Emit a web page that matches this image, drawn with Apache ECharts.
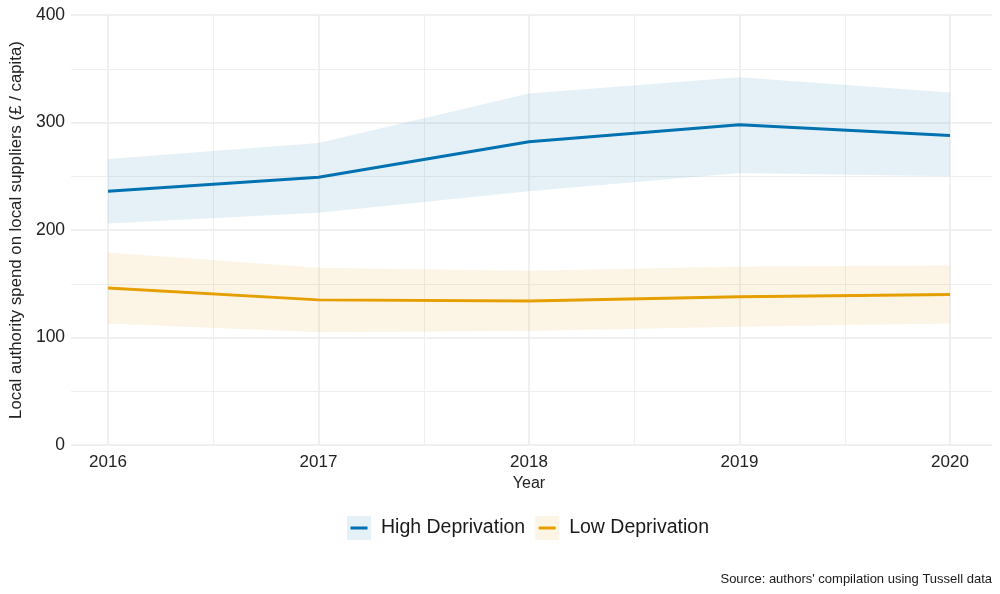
<!DOCTYPE html>
<html>
<head>
<meta charset="utf-8">
<script src="https://cdn.jsdelivr.net/npm/echarts@6/dist/echarts.min.js"></script>
<style>html,body{margin:0;padding:0;background:#fff}#c{width:1000px;height:594px}</style>
</head>
<body>
<div id="c"></div>
<script>
const years = [2016, 2017, 2018, 2019, 2020];
const highMean  = [236, 249, 282, 298, 288];
const highUpper = [266, 281, 327, 342, 328];
const highLower = [206, 216, 236, 253, 250];
const lowMean   = [146, 135, 134, 138, 140];
const lowUpper  = [179, 165, 162, 166, 167];
const lowLower  = [113, 105, 106, 110, 113];
const seriesNames = ['High Deprivation', 'Low Deprivation'];
const yTicks = [0, 100, 200, 300, 400];

const BLUE = '#0072B2', ORANGE = '#E69F00';
const FONT = 'Liberation Sans, Arial, Helvetica, sans-serif';

const pairs = (ys) => years.map((x, i) => [x, ys[i]]);

function band(lower, upper, color) {
  return {
    type: 'custom', xAxisIndex: 1, yAxisIndex: 1, silent: true, z: 1,
    data: years.map((x, i) => [x, lower[i], upper[i]]),
    renderItem: function (params, api) {
      if (params.dataIndex !== 0) return;
      const pts = [];
      for (let i = 0; i < years.length; i++) pts.push(api.coord([years[i], upper[i]]));
      for (let i = years.length - 1; i >= 0; i--) pts.push(api.coord([years[i], lower[i]]));
      return { type: 'polygon', shape: { points: pts }, style: { fill: color, opacity: 0.1 } };
    }
  };
}

const chart = echarts.init(document.getElementById('c'), null, { renderer: 'canvas' });
const lineIcon = 'path://M0,0 M24,24 M3.5,10.5 L20.5,10.5 L20.5,13.5 L3.5,13.5 Z';

chart.setOption({
  animation: false,
  textStyle: { fontFamily: FONT },
  grid: [
    { left: 65, right: 8, top: 15, bottom: 149 },
    { left: 108, right: 50, top: 15, bottom: 149 }
  ],
  xAxis: [
    { type: 'value', gridIndex: 0, min: 0, max: 1, show: false },
    { type: 'value', gridIndex: 1, min: years[0], max: years[years.length - 1], interval: 1,
      axisLine: { show: false }, axisTick: { show: false },
      axisLabel: { fontSize: 17, color: '#222', margin: 9, fontFamily: FONT, formatter: (v) => String(v) },
      splitLine: { show: true, lineStyle: { color: '#ebebeb', width: 1.5 } },
      minorTick: { show: false, splitNumber: 2 },
      minorSplitLine: { show: true, lineStyle: { color: '#efefef', width: 1 } },
      name: 'Year', nameLocation: 'middle', nameGap: 27,
      nameTextStyle: { fontSize: 16, color: '#222', fontFamily: FONT } }
  ],
  yAxis: [
    { type: 'value', gridIndex: 0, min: yTicks[0], max: yTicks[yTicks.length - 1], interval: 100,
      axisLine: { show: false }, axisTick: { show: false },
      axisLabel: { fontSize: 17.5, color: '#222', margin: 6, fontFamily: FONT },
      splitLine: { show: true, lineStyle: { color: '#ebebeb', width: 1.5 } },
      minorTick: { show: false, splitNumber: 2 },
      minorSplitLine: { show: true, lineStyle: { color: '#efefef', width: 1 } },
      name: 'Local authority spend on local suppliers (£ / capita)',
      nameLocation: 'middle', nameGap: 36,
      nameTextStyle: { fontSize: 16.8, color: '#222', fontFamily: FONT } },
    { type: 'value', gridIndex: 1, min: yTicks[0], max: yTicks[yTicks.length - 1], show: false }
  ],
  legend: [
    { left: 347, top: 516, padding: 0, itemGap: 10, itemWidth: 24, itemHeight: 24, icon: 'rect',
      selectedMode: false,
      data: [
        { name: seriesNames[0], itemStyle: { color: 'rgba(0,114,178,0.1)' } },
        { name: seriesNames[1], itemStyle: { color: 'rgba(230,159,0,0.1)' } }
      ],
      textStyle: { fontSize: 19.5, color: '#1a1a1a', fontFamily: FONT, padding: [0, 0, 0, 5] } },
    { left: 347, top: 516, padding: 0, itemGap: 10, itemWidth: 24, itemHeight: 24, icon: lineIcon,
      selectedMode: false,
      data: [
        { name: seriesNames[0], itemStyle: { color: BLUE } },
        { name: seriesNames[1], itemStyle: { color: ORANGE } }
      ],
      textStyle: { fontSize: 19.5, color: 'rgba(0,0,0,0)', fontFamily: FONT, padding: [0, 0, 0, 5] } }
  ],
  title: {
    text: "Source: authors' compilation using Tussell data",
    right: 8, bottom: 8, padding: 0,
    textStyle: { fontSize: 13, fontWeight: 'normal', color: '#1a1a1a', fontFamily: FONT }
  },
  series: [
    band(highLower, highUpper, BLUE),
    band(lowLower, lowUpper, ORANGE),
    { name: seriesNames[0], type: 'line', xAxisIndex: 1, yAxisIndex: 1, data: pairs(highMean),
      symbol: 'none', lineStyle: { color: BLUE, width: 3 }, itemStyle: { color: BLUE }, z: 3 },
    { name: seriesNames[1], type: 'line', xAxisIndex: 1, yAxisIndex: 1, data: pairs(lowMean),
      symbol: 'none', lineStyle: { color: ORANGE, width: 3 }, itemStyle: { color: ORANGE }, z: 3 }
  ]
});
</script>
</body>
</html>
